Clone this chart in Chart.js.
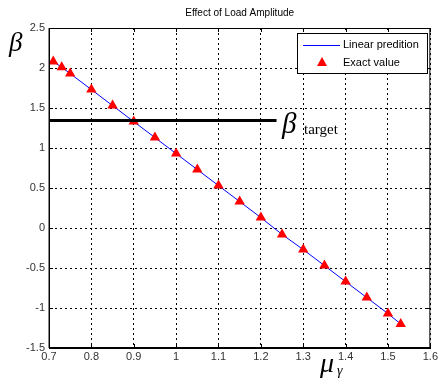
<!DOCTYPE html>
<html>
<head>
<meta charset="utf-8">
<script src="https://cdn.jsdelivr.net/npm/chart.js@4"></script>
<style>
  html, body { margin: 0; padding: 0; background: #fff; }
  #wrap { width: 440px; height: 378px; }
</style>
</head>
<body>
<div id="wrap"><canvas id="loadChart" width="440" height="378"></canvas></div>
<script>
// data
var muValues = [0.71, 0.73, 0.75, 0.80, 0.85, 0.90, 0.95, 1.00, 1.05, 1.10, 1.15, 1.20, 1.25, 1.30, 1.35, 1.40, 1.45, 1.50, 1.53];
var betaExact = [2.08, 2.01, 1.93, 1.73, 1.53, 1.33, 1.13, 0.93, 0.73, 0.53, 0.33, 0.13, -0.08, -0.27, -0.47, -0.67, -0.87, -1.07, -1.20];
var betaLinear = [2.08, 2.01, 1.93, 1.73, 1.53, 1.33, 1.13, 0.93, 0.73, 0.53, 0.33, 0.13, -0.08, -0.27, -0.47, -0.67, -0.87, -1.07, -1.20];
var targetBeta = 1.345;
var targetMu = [0.7, 1.237];
var xTicks = [0.7, 0.8, 0.9, 1.0, 1.1, 1.2, 1.3, 1.4, 1.5, 1.6];
var yTicks = [-1.5, -1, -0.5, 0, 0.5, 1, 1.5, 2, 2.5];

var chartInstance;

function toPoints(xs, ys) {
    return xs.map(function (x, i) { return { x: x, y: ys[i] }; });
}

var labelsPlugin = {
    id: 'matlabLabels',
    afterDraw: function (chart) {
        var ctx = chart.ctx;
        var area = chart.chartArea;
        var xs = chart.scales.x, ys = chart.scales.y;
        ctx.save();

        // box + inward tick marks
        ctx.strokeStyle = '#000';
        ctx.lineWidth = 1;
        ctx.setLineDash([]);
        ctx.strokeRect(area.left + 0.5, area.top + 0.5, area.right - area.left - 1, area.bottom - area.top - 1);
        ctx.strokeStyle = '#888';
        ctx.beginPath();
        ctx.moveTo(area.left - 0.5, area.top); ctx.lineTo(area.left - 0.5, area.bottom);
        ctx.stroke();
        ctx.strokeStyle = '#000';
        ctx.beginPath();
        xTicks.forEach(function (v) {
            var px = Math.round(xs.getPixelForValue(v)) + 0.5;
            ctx.moveTo(px, area.bottom); ctx.lineTo(px, area.bottom - 4);
            ctx.moveTo(px, area.top); ctx.lineTo(px, area.top + 4);
        });
        yTicks.forEach(function (v) {
            var py = Math.round(ys.getPixelForValue(v)) + 0.5;
            ctx.moveTo(area.left, py); ctx.lineTo(area.left + 4, py);
            ctx.moveTo(area.right, py); ctx.lineTo(area.right - 4, py);
        });
        ctx.stroke();

        // title
        ctx.fillStyle = '#000';
        ctx.font = '10px "Liberation Sans", Arial, sans-serif';
        ctx.textAlign = 'center';
        ctx.textBaseline = 'middle';
        ctx.fillText('Effect of Load Amplitude', (area.left + area.right) / 2, 13);

        // y label
        ctx.font = 'italic 27px "Liberation Serif", "DejaVu Serif", serif';
        ctx.textAlign = 'left';
        ctx.textBaseline = 'alphabetic';
        ctx.fillText('β', 9, 51);

        // beta target label
        var ty = ys.getPixelForValue(targetBeta);
        ctx.font = 'italic 29px "Liberation Serif", "DejaVu Serif", serif';
        ctx.fillText('β', 282, ty + 13);
        ctx.font = '15px "Liberation Serif", "DejaVu Serif", serif';
        ctx.fillText('target', 304, ty + 14);

        // x label
        ctx.font = 'italic 28px "Liberation Serif", "DejaVu Serif", serif';
        ctx.fillText('μ', 320, 372);
        ctx.font = 'italic 14px "Liberation Serif", "DejaVu Serif", serif';
        ctx.fillText('γ', 337, 375);

        // legend
        var lx = 297, ly = 33, lw = 130, lh = 40;
        ctx.fillStyle = '#fff';
        ctx.fillRect(lx, ly, lw, lh);
        ctx.strokeStyle = '#000';
        ctx.lineWidth = 1;
        ctx.strokeRect(lx + 0.5, ly + 0.5, lw, lh);
        ctx.strokeStyle = '#0000ff';
        ctx.beginPath();
        ctx.moveTo(303, 45.5); ctx.lineTo(340, 45.5);
        ctx.stroke();
        ctx.fillStyle = '#ff0000';
        ctx.beginPath();
        ctx.moveTo(322, 57); ctx.lineTo(327, 66); ctx.lineTo(317, 66);
        ctx.closePath();
        ctx.fill();
        ctx.fillStyle = '#000';
        ctx.font = '11px "Liberation Sans", Arial, sans-serif';
        ctx.textBaseline = 'middle';
        ctx.fillText('Linear predition', 343, 45);
        ctx.fillText('Exact value', 343, 63);

        ctx.restore();
    }
};

function createChart() {
    var ctx = document.getElementById('loadChart').getContext('2d');
    if (chartInstance) {
        chartInstance.destroy();
    }
    chartInstance = new Chart(ctx, {
        type: 'scatter',
        data: {
            datasets: [
                {
                    label: 'Linear predition',
                    data: toPoints(muValues, betaLinear),
                    showLine: true,
                    borderColor: '#0000ff',
                    borderWidth: 1,
                    pointRadius: 0,
                    order: 2
                },
                {
                    label: 'Exact value',
                    data: toPoints(muValues, betaExact),
                    pointStyle: 'triangle',
                    pointRadius: 6,
                    backgroundColor: '#ff0000',
                    borderColor: '#ff0000',
                    borderWidth: 0,
                    order: 1
                },
                {
                    label: 'target',
                    data: toPoints(targetMu, [targetBeta, targetBeta]),
                    showLine: true,
                    borderColor: '#000',
                    borderWidth: 3,
                    pointRadius: 0,
                    order: 0
                }
            ]
        },
        options: {
            responsive: false,
            animation: false,
            layout: { padding: { top: 28, right: 5, left: 0, bottom: 0 } },
            plugins: {
                legend: { display: false },
                title: { display: false },
                tooltip: { enabled: false }
            },
            scales: {
                x: {
                    type: 'linear',
                    min: 0.7,
                    max: 1.6,
                    afterFit: function (s) { s.height = 30; },
                    afterBuildTicks: function (s) { s.ticks = xTicks.map(function (v) { return { value: v }; }); },
                    ticks: {
                        color: '#333',
                        font: { family: '"Liberation Sans", Arial, sans-serif', size: 11 },
                        padding: 2,
                        callback: function (v) { return String(Number(v.toFixed(1))); }
                    },
                    grid: { color: '#000', drawTicks: false, lineWidth: 1 },
                    border: { display: true, color: '#000', dash: [2, 3] }
                },
                y: {
                    type: 'linear',
                    min: -1.5,
                    max: 2.5,
                    afterFit: function (s) { s.width = 49; },
                    afterBuildTicks: function (s) { s.ticks = yTicks.map(function (v) { return { value: v }; }); },
                    ticks: {
                        color: '#333',
                        font: { family: '"Liberation Sans", Arial, sans-serif', size: 11 },
                        padding: 4,
                        callback: function (v) { return String(Number(v.toFixed(1))); }
                    },
                    grid: { color: '#000', drawTicks: false, lineWidth: 1 },
                    border: { display: true, color: '#000', dash: [2, 3] }
                }
            }
        },
        plugins: [labelsPlugin]
    });
}

createChart();
</script>
</body>
</html>
